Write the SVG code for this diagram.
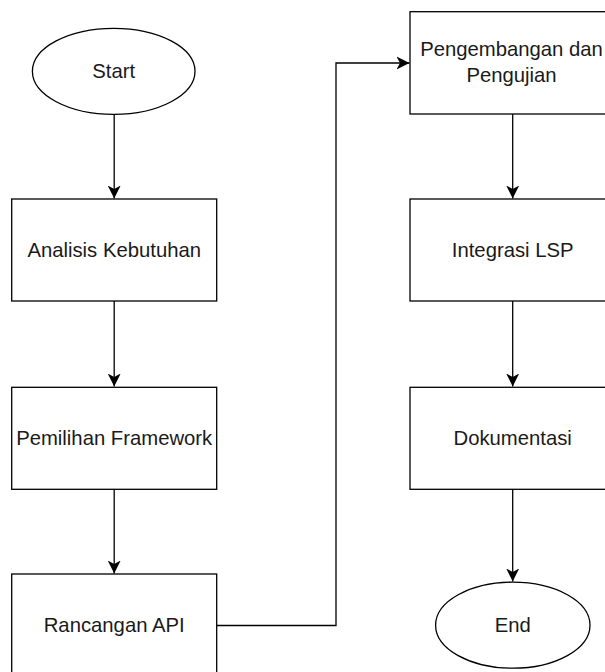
<svg xmlns="http://www.w3.org/2000/svg" width="605" height="672" viewBox="0 0 605 672">
<style>
.s{fill:#fff;stroke:#000;stroke-width:1.3}
.c{fill:none;stroke:#000;stroke-width:1.3}
text{font-family:"Liberation Sans",Arial,sans-serif;font-size:20.3px;fill:#1a1a1a;text-anchor:middle}
</style>
<defs>
<marker id="a" markerUnits="userSpaceOnUse" markerWidth="14" markerHeight="14" viewBox="0 0 14 14" refX="13" refY="7" orient="auto">
<path d="M0,0.5 L13,7 L0,13.5 L3.5,7 Z" fill="#000"/>
</marker>
</defs>
<rect width="605" height="672" fill="#fff"/>
<g id="connectors">
<path class="c" d="M114.2,114.3 V198.5" marker-end="url(#a)"/>
<path class="c" d="M114.2,301 V386.5" marker-end="url(#a)"/>
<path class="c" d="M114.2,489.3 V573.5" marker-end="url(#a)"/>
<path class="c" d="M216.7,625.5 H336 V63 H409.5" marker-end="url(#a)"/>
<path class="c" d="M512.7,114 V198.5" marker-end="url(#a)"/>
<path class="c" d="M512.7,301 V386.5" marker-end="url(#a)"/>
<path class="c" d="M512.7,489.3 V581.5" marker-end="url(#a)"/>
</g>
<g id="start">
<ellipse class="s" cx="113.7" cy="71.3" rx="81.3" ry="43"/>
<text x="113.7" y="78">Start</text>
</g>
<g id="analisis">
<rect class="s" x="11.7" y="199" width="205" height="102"/>
<text x="114.2" y="256.5">Analisis Kebutuhan</text>
</g>
<g id="pemilihan">
<rect class="s" x="11.7" y="387.3" width="205" height="102"/>
<text x="114.2" y="444.5">Pemilihan Framework</text>
</g>
<g id="rancangan">
<rect class="s" x="11.7" y="574" width="205" height="102"/>
<text x="114.2" y="632">Rancangan API</text>
</g>
<g id="pengembangan">
<rect class="s" x="410" y="11.7" width="205" height="102.3"/>
<text x="511.5" y="55.7">Pengembangan dan</text>
<text x="511.5" y="81.7">Pengujian</text>
</g>
<g id="integrasi">
<rect class="s" x="410" y="199" width="205" height="102"/>
<text x="512.7" y="257">Integrasi LSP</text>
</g>
<g id="dokumentasi">
<rect class="s" x="410" y="387.3" width="205" height="102"/>
<text x="512.7" y="445">Dokumentasi</text>
</g>
<g id="end">
<ellipse class="s" cx="512.8" cy="625.2" rx="77.2" ry="43"/>
<text x="512.8" y="632">End</text>
</g>
</svg>
